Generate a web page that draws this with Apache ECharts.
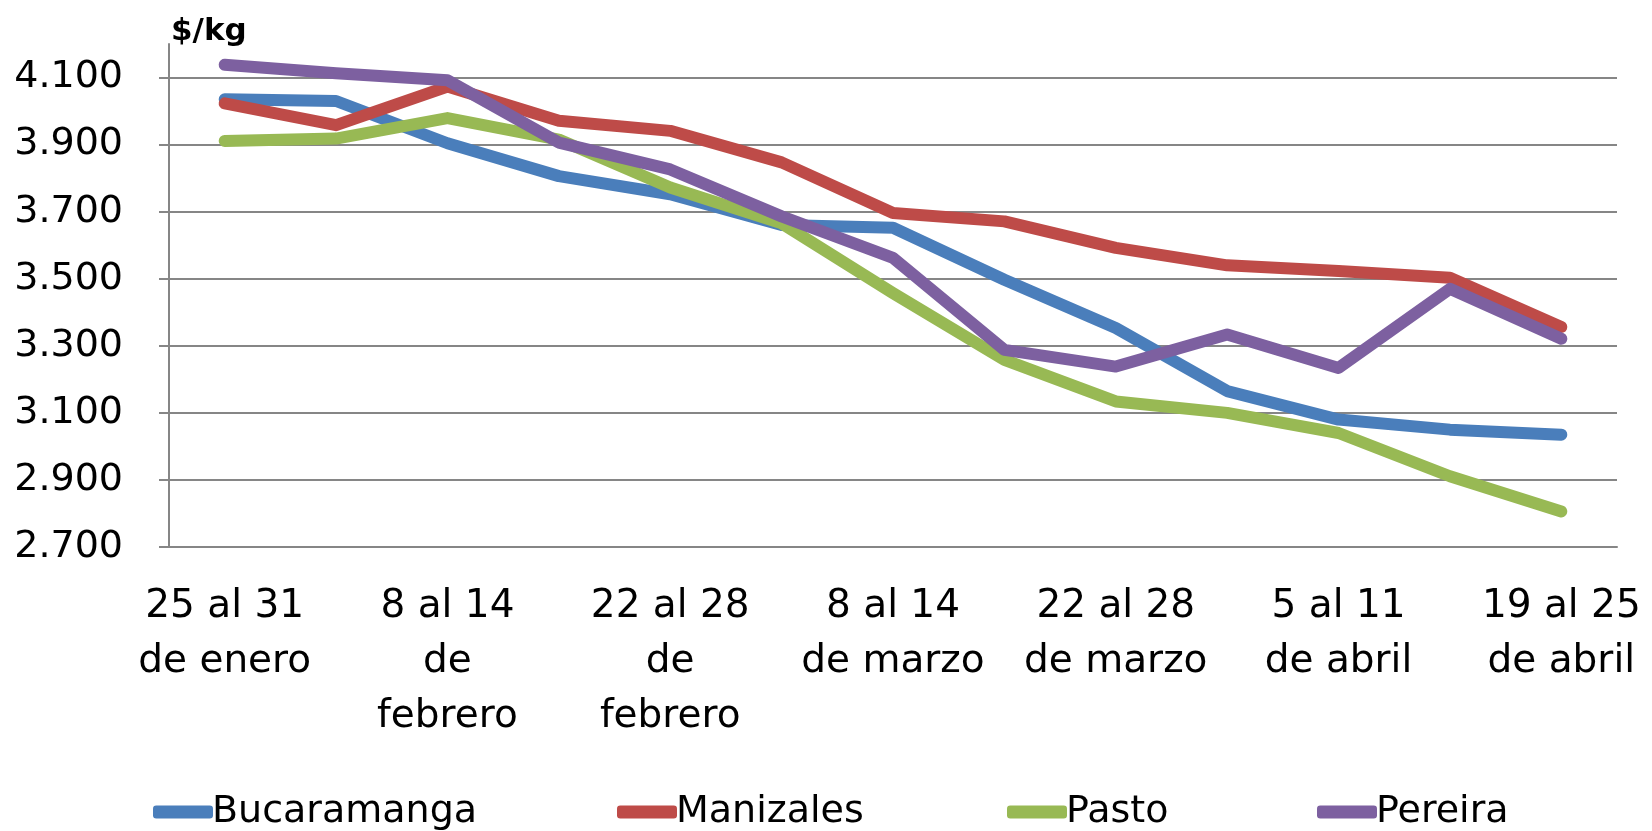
<!DOCTYPE html>
<html>
<head>
<meta charset="utf-8">
<script src="https://cdn.jsdelivr.net/npm/echarts@6/dist/echarts.min.js"></script>
<style>
  html, body { margin: 0; padding: 0; background: #fff; }
  #chart { width: 1652px; height: 831px; }
</style>
</head>
<body>
<div id="chart"></div>
<script>
// semanas (13), se muestra una de cada dos
var weeks = [
  "25 al 31\nde enero", "1 al 7\nde\nfebrero", "8 al 14\nde\nfebrero", "15 al 21\nde\nfebrero",
  "22 al 28\nde\nfebrero", "1 al 7\nde marzo", "8 al 14\nde marzo", "15 al 21\nde marzo",
  "22 al 28\nde marzo", "29 de marzo\nal 4 de abril", "5 al 11\nde abril", "12 al 18\nde abril",
  "19 al 25\nde abril"
];

var bucaramanga = [4035, 4030, 3904, 3806, 3752, 3660, 3652, 3497, 3353, 3165, 3080, 3050, 3035];
var manizales   = [4023, 3958, 4073, 3971, 3941, 3847, 3696, 3671, 3592, 3540, 3523, 3503, 3356];
var pasto       = [3911, 3918, 3979, 3915, 3772, 3665, 3457, 3258, 3134, 3100, 3040, 2911, 2806];
var pereira     = [4138, 4113, 4092, 3906, 3826, 3686, 3562, 3288, 3238, 3334, 3234, 3470, 3321];

var names = ["Bucaramanga", "Manizales", "Pasto", "Pereira"];
var colors = ["#4A7EBB", "#BE4B48", "#98B954", "#7D60A0"];
var legendLeft = [148, 612, 1002, 1312];

var font = "DejaVu Sans, Liberation Sans, sans-serif";

var chart = echarts.init(document.getElementById("chart"));

function makeSeries(name, data, i) {
  return {
    name: name,
    type: "line",
    data: data,
    symbol: "none",
    color: colors[i],
    lineStyle: { width: 12, cap: "round", join: "round", color: colors[i] },
    animation: false
  };
}

var option = {
  backgroundColor: "#fff",
  title: {
    text: "$/kg",
    left: 166,
    top: 11,
    textStyle: { fontFamily: font, fontSize: 31, fontWeight: "bold", color: "#000" }
  },
  legend: names.map(function (n, i) {
    return {
      data: [n],
      left: legendLeft[i],
      top: 788,
      icon: "roundRect",
      itemWidth: 60,
      itemHeight: 13,
      itemGap: 0,
      textStyle: { fontFamily: font, fontSize: 38, color: "#000", padding: [0, 0, 0, -6] }
    };
  }),
  grid: { left: 169, right: 35, top: 44, bottom: 284, containLabel: false },
  xAxis: {
    type: "category",
    data: weeks,
    boundaryGap: true,
    axisLine: { show: true, lineStyle: { color: "#868686", width: 2 } },
    axisTick: { show: false },
    axisLabel: {
      interval: 1,
      margin: 32,
      fontFamily: font,
      fontSize: 39,
      lineHeight: 55,
      color: "#000",
      align: "center"
    }
  },
  yAxis: {
    type: "value",
    min: 2700,
    max: 4200,
    interval: 200,
    axisLine: { show: true, lineStyle: { color: "#868686", width: 2 } },
    axisTick: { show: true, inside: false, length: 10, lineStyle: { color: "#868686", width: 2 } },
    splitLine: { show: true, showMaxLine: false, lineStyle: { color: "#868686", width: 2 } },
    axisLabel: {
      showMaxLabel: false,
      margin: 46,
      fontFamily: font,
      fontSize: 38,
      color: "#000",
      formatter: function (v) {
        if (v > 4100) return "";
        return (v / 1000).toFixed(3);
      }
    }
  },
  series: [
    makeSeries(names[0], bucaramanga, 0),
    makeSeries(names[1], manizales, 1),
    makeSeries(names[2], pasto, 2),
    makeSeries(names[3], pereira, 3)
  ]
};

chart.setOption(option);
</script>
</body>
</html>
